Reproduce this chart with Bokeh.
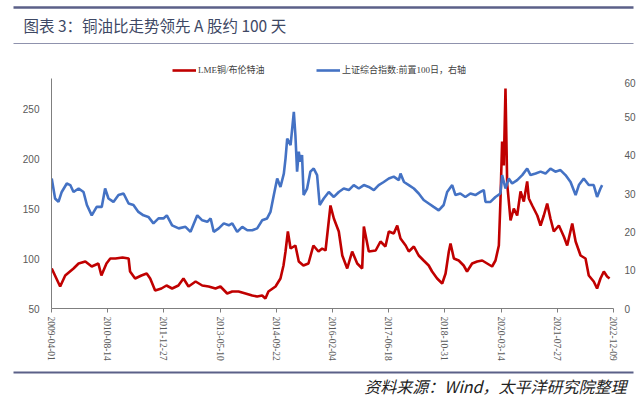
import pandas as pd
from bokeh.plotting import figure
from bokeh.models import (Range1d, LinearAxis, FixedTicker, DatetimeTickFormatter,
                          Legend, LegendItem, Label, Column)
from bokeh.embed import file_html
from bokeh.resources import INLINE

# ---------------- data ----------------
title_text = "图表 3：铜油比走势领先 A 股约 100 天"
source_text = "资料来源：Wind，太平洋研究院整理"
red_name = "LME铜/布伦特油"
blue_name = "上证综合指数:前置100日，右轴"

tick_dates = ["2009-04-01", "2010-08-14", "2011-12-27", "2013-05-10", "2014-09-22",
              "2016-02-04", "2017-06-18", "2018-10-31", "2020-03-14", "2021-07-27",
              "2022-12-09"]
left_ticks = [50, 100, 150, 200, 250]
right_ticks = [0, 10, 20, 30, 40, 50, 60]

red_dates = ["2009-04-03","2009-06-17","2009-08-01","2009-10-14","2009-11-28","2010-01-27","2010-03-25","2010-05-23","2010-06-19","2010-08-03",
             "2010-09-06","2010-10-22","2010-12-24","2011-02-16","2011-03-01","2011-04-15","2011-06-10","2011-07-27","2011-08-27","2011-10-10",
             "2011-12-05","2012-01-19","2012-03-09","2012-05-04","2012-06-18","2012-08-02","2012-10-04","2012-12-02","2013-01-28","2013-03-30",
             "2013-05-13","2013-07-12","2013-08-26","2013-10-21","2013-12-22","2014-02-20","2014-04-05","2014-05-19","2014-06-17","2014-07-14",
             "2014-09-15","2014-10-29","2014-11-25","2014-12-13","2015-01-03","2015-01-27","2015-03-11","2015-04-10","2015-05-21","2015-07-05",
             "2015-08-18","2015-10-02","2015-11-04","2015-12-04","2016-01-17","2016-02-16","2016-03-31","2016-05-01","2016-06-14","2016-07-28",
             "2016-09-11","2016-10-25","2016-11-09","2016-12-23","2017-02-22","2017-04-06","2017-05-20","2017-06-19","2017-08-02","2017-09-02",
             "2017-10-01","2017-11-16","2017-12-14","2018-01-28","2018-03-12","2018-04-25","2018-06-09","2018-07-09","2018-08-23","2018-10-07",
             "2018-11-06","2018-12-05","2018-12-20","2019-01-19","2019-03-03","2019-04-16","2019-05-16","2019-06-30","2019-08-14","2019-09-28",
             "2019-11-11","2019-12-25","2020-01-24","2020-02-23","2020-03-08","2020-03-23","2020-04-07","2020-04-22","2020-05-07","2020-06-06",
             "2020-07-05","2020-08-04","2020-09-03","2020-10-02","2020-11-01","2020-11-16","2020-12-16","2021-01-30","2021-02-28","2021-03-29",
             "2021-04-28","2021-05-27","2021-06-26","2021-08-10","2021-09-23","2021-10-23","2021-12-07","2022-01-06","2022-02-19","2022-04-04",
             "2022-05-03","2022-06-16","2022-07-16","2022-08-15","2022-09-14","2022-10-13","2022-11-04"]
red_values = [90, 72, 83, 90, 95, 97, 92, 95, 83, 95,
              100, 100, 101, 100, 87, 80, 83, 85, 80, 68,
              70, 73, 70, 73, 80, 72, 77, 73, 72, 70,
              72, 65, 67, 67, 65, 63, 62, 63, 60, 67,
              72, 80, 93, 107, 127, 110, 113, 97, 93, 95,
              113, 107, 110, 108, 153, 140, 127, 103, 90, 107,
              95, 90, 132, 107, 108, 117, 112, 127, 125, 133,
              120, 113, 107, 112, 103, 98, 93, 87, 80, 75,
              85, 107, 115, 100, 98, 93, 87, 95, 97, 98,
              95, 92, 98, 113, 157, 217, 193, 270, 175, 138,
              150, 143, 167, 157, 177, 160, 153, 143, 133, 143,
              155, 140, 127, 133, 122, 113, 135, 117, 103, 100,
              83, 77, 70, 80, 87, 82, 80]

blue_dates = ["2009-04-03","2009-05-03","2009-06-02","2009-07-01","2009-08-15","2009-09-15","2009-10-14","2009-11-28","2010-01-11","2010-02-10",
              "2010-03-25","2010-05-08","2010-06-22","2010-07-22","2010-08-21","2010-10-04","2010-11-18","2011-01-02","2011-02-16","2011-03-31",
              "2011-05-14","2011-06-28","2011-08-11","2011-09-25","2011-11-09","2011-12-23","2012-01-22","2012-03-09","2012-05-07","2012-07-06",
              "2012-08-20","2012-10-19","2012-12-02","2013-01-16","2013-02-15","2013-03-14","2013-04-28","2013-06-12","2013-07-26","2013-08-26",
              "2013-10-09","2013-11-23","2014-01-07","2014-02-20","2014-04-05","2014-05-19","2014-07-02","2014-08-01","2014-08-31","2014-09-30",
              "2014-10-29","2014-11-28","2014-12-13","2014-12-28","2015-01-27","2015-02-25","2015-03-11","2015-03-26","2015-04-10","2015-04-24",
              "2015-05-09","2015-05-23","2015-06-23","2015-07-22","2015-08-21","2015-09-20","2015-10-13","2015-11-18","2016-01-02","2016-02-16",
              "2016-03-31","2016-05-14","2016-06-28","2016-08-11","2016-09-25","2016-11-09","2016-12-23","2017-02-06","2017-03-21","2017-05-05",
              "2017-06-19","2017-08-02","2017-09-16","2017-10-01","2017-11-01","2017-12-14","2018-01-28","2018-03-12","2018-04-25","2018-06-09",
              "2018-07-23","2018-09-06","2018-10-20","2018-11-20","2019-01-04","2019-02-02","2019-03-17","2019-05-01","2019-06-15","2019-07-29",
              "2019-09-12","2019-10-12","2019-10-27","2019-12-10","2020-01-24","2020-03-08","2020-03-23","2020-04-22","2020-05-21","2020-06-20",
              "2020-08-04","2020-09-18","2020-11-01","2020-12-01","2021-01-15","2021-02-28","2021-04-13","2021-05-27","2021-07-10","2021-08-24",
              "2021-10-08","2021-11-22","2022-01-06","2022-02-04","2022-03-19","2022-05-03","2022-06-16","2022-07-16","2022-08-15","2022-08-30"]
blue_values = [33.9, 28.7, 27.8, 30.4, 32.6, 32.2, 30.4, 31.3, 30.4, 27.0,
               24.3, 26.5, 26.5, 31.3, 28.7, 27.8, 29.6, 30.0, 27.4, 27.0,
               25.2, 24.3, 23.9, 22.2, 23.5, 23.5, 24.3, 21.7, 20.9, 21.3,
               20.0, 24.3, 23.0, 22.6, 23.5, 20.0, 20.9, 22.2, 21.7, 22.2,
               20.0, 21.3, 20.4, 20.4, 20.9, 23.0, 23.5, 25.2, 29.6, 33.9,
               31.7, 35.2, 39.1, 44.3, 42.6, 51.3, 45.2, 35.7, 40.9, 38.3,
               40.0, 29.6, 31.3, 35.7, 36.5, 34.8, 27.0, 28.7, 30.4, 29.1,
               30.4, 31.3, 30.9, 32.2, 31.3, 32.2, 31.7, 30.9, 32.2, 33.0,
               33.9, 34.4, 33.5, 35.2, 33.0, 32.2, 31.3, 30.0, 28.3, 27.4,
               26.5, 25.6, 27.0, 30.4, 32.2, 29.6, 30.0, 29.1, 30.0, 29.6,
               30.4, 30.9, 27.8, 27.8, 29.1, 30.0, 34.8, 31.3, 33.9, 32.6,
               33.5, 34.8, 36.5, 34.8, 35.2, 35.7, 35.2, 36.5, 35.7, 36.1,
               34.8, 33.0, 29.6, 32.2, 33.9, 32.2, 32.2, 29.1, 31.3, 32.2]

# ---------------- styling ----------------
W = 640
RED = "#C00000"
BLUE = "#4472C4"
RULE = "#5b6088"
CJK = "Noto Sans CJK SC"
LW = 2.6

# ---------- header (title + legend) ----------
H1 = 78
hdr = figure(width=W, height=H1, x_range=Range1d(0, W), y_range=Range1d(H1, 0),
             output_backend="svg", toolbar_location=None, min_border=0,
             x_axis_location=None, y_axis_location=None, outline_line_color=None,
             frame_align=False)
hdr.grid.visible = False
hdr.segment(x0=[13], y0=[7], x1=[633], y1=[7], line_color=RULE, line_width=2.5)
hdr.segment(x0=[13], y0=[43], x1=[633], y1=[43], line_color="#8f92ad", line_width=1)
hdr.add_layout(Label(x=23, y=24, text=title_text, text_font=CJK, text_font_size="15.5px",
                     text_color="#3e4864", text_baseline="middle", text_align="left"))
# legend keys (same styles as the series lines of the chart; kept off-canvas)
key_red = hdr.line(x=[-20, -10], y=[-20, -20], line_color=RED, line_width=LW)
key_blue = hdr.line(x=[-20, -10], y=[-20, -20], line_color=BLUE, line_width=LW)
legend = Legend(items=[LegendItem(label=red_name, renderers=[key_red]),
                       LegendItem(label=blue_name, renderers=[key_blue])],
                orientation="horizontal", location=(172, 2),
                padding=0, margin=0, spacing=0, glyph_width=24, glyph_height=12,
                label_height=12, label_width=118, label_standoff=2, border_line_color=None,
                background_fill_alpha=0, label_text_font_size="9px",
                label_text_font="Liberation Serif, Noto Sans CJK SC",
                label_text_color="#404040")
hdr.add_layout(legend, "center")

# ---------- main chart ----------
dates_r = pd.to_datetime(red_dates)
dates_b = pd.to_datetime(blue_dates)
ticks = pd.to_datetime(tick_dates)
tick_ms = [t.value / 1e6 for t in ticks]

p = figure(frame_width=562, frame_height=230, x_axis_type="datetime",
           x_range=Range1d(ticks[0], ticks[-1]), y_range=Range1d(50, 280),
           output_backend="svg", toolbar_location=None,
           min_border_left=51, min_border_right=27, min_border_top=0, min_border_bottom=58,
           outline_line_color=None, frame_align=False)
p.grid.visible = False
p.extra_y_ranges = {"right": Range1d(0, 60)}

p.line(dates_r, red_values, line_color=RED, line_width=LW)
p.line(dates_b, blue_values, line_color=BLUE, line_width=LW, y_range_name="right")

xa = p.xaxis[0]
xa.ticker = FixedTicker(ticks=tick_ms)
fmt = "%Y-%m-%d"
xa.formatter = DatetimeTickFormatter(milliseconds=fmt, seconds=fmt, minsec=fmt, minutes=fmt,
                                     hourmin=fmt, hours=fmt, days=fmt, months=fmt, years=fmt)
xa.major_label_orientation = "vertical"
xa.major_label_text_font = "Liberation Serif"
xa.major_label_text_font_size = "9.5px"
xa.major_label_text_color = "#595959"
xa.major_label_standoff = 4
xa.axis_line_color = "#7f7f7f"
xa.major_tick_line_color = "#7f7f7f"
xa.major_tick_out = 4
xa.major_tick_in = 0
xa.minor_tick_line_color = None

ya = p.yaxis[0]
ya.ticker = FixedTicker(ticks=left_ticks)
ya.major_label_text_font = "Liberation Sans"
ya.major_label_text_font_size = "10px"
ya.major_label_text_color = "#595959"
ya.axis_line_color = "#7f7f7f"
ya.major_tick_line_color = None
ya.minor_tick_line_color = None
ya.major_label_standoff = 6

ra = LinearAxis(y_range_name="right", ticker=FixedTicker(ticks=right_ticks))
ra.major_label_text_font = "Liberation Sans"
ra.major_label_text_font_size = "10px"
ra.major_label_text_color = "#595959"
ra.axis_line_color = None
ra.major_tick_line_color = None
ra.minor_tick_line_color = None
ra.major_label_standoff = 5
p.add_layout(ra, "right")

# ---------- footer ----------
H3 = 30
ftr = figure(width=W, height=H3, x_range=Range1d(0, W), y_range=Range1d(H3, 0),
             output_backend="svg", toolbar_location=None, min_border=0,
             x_axis_location=None, y_axis_location=None, outline_line_color=None,
             frame_align=False)
ftr.grid.visible = False
ftr.segment(x0=[13], y0=[6], x1=[633], y1=[6], line_color=RULE, line_width=2)
ftr.add_layout(Label(x=626, y=19, text=source_text, text_font=CJK, text_font_size="16px",
                     text_font_style="italic", text_color="#222222",
                     text_baseline="middle", text_align="right"))

layout = Column(hdr, p, ftr, spacing=0)
open("out.html", "w").write(file_html(layout, INLINE))
